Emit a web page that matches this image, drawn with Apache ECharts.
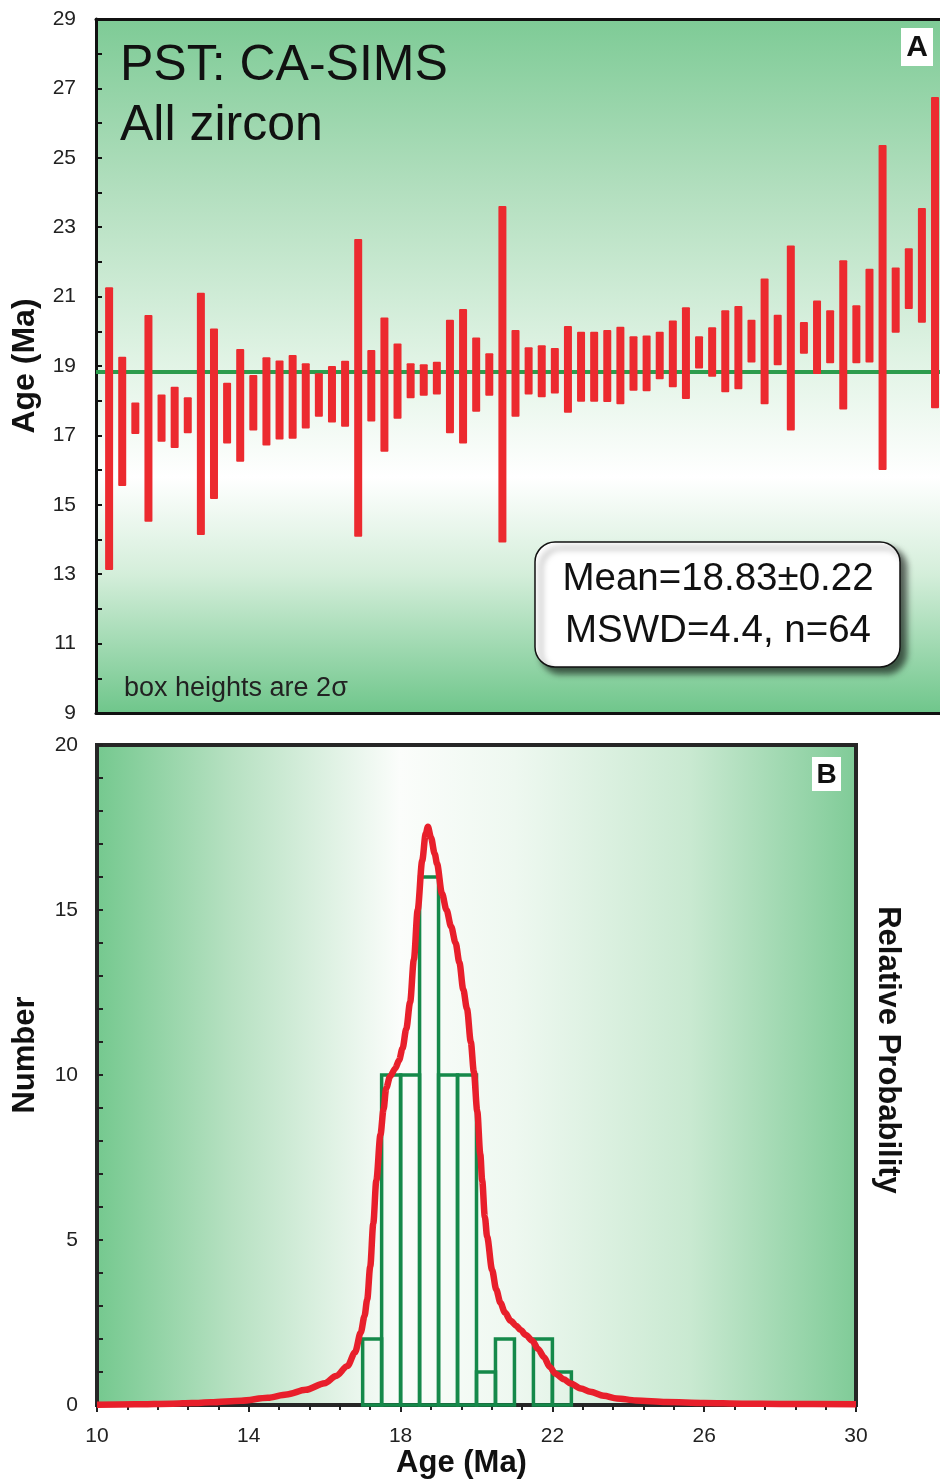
<!DOCTYPE html>
<html>
<head>
<meta charset="utf-8">
<script src="https://cdn.jsdelivr.net/npm/echarts@6/dist/echarts.min.js"></script>
<style>
  html, body { margin: 0; padding: 0; background: #ffffff; }
  #chart { width: 940px; height: 1481px; }
</style>
</head>
<body>
<div id="chart"></div>
<script>
// ---- Panel A: zircon spot ages, upper / lower end of each 2σ box (Ma), in plotted order
const boxTop = [21.27, 19.27, 17.95, 20.47, 18.18, 18.40, 18.10, 21.11, 20.08, 18.52,
                19.49, 18.74, 19.25, 19.16, 19.32, 19.08, 18.79, 19.00, 19.15, 22.66,
                19.46, 20.40, 19.65, 19.08, 19.05, 19.12, 20.33, 20.64, 19.82, 19.37,
                23.61, 20.04, 19.54, 19.60, 19.52, 20.15, 19.99, 19.99, 20.04, 20.13,
                19.86, 19.88, 19.99, 20.31, 20.69, 19.86, 20.12, 20.61, 20.73, 20.33,
                21.52, 20.48, 22.47, 20.27, 20.89, 20.61, 22.05, 20.75, 21.80, 25.37,
                21.84, 22.39, 23.55, 26.75];
const boxBottom = [13.12, 15.54, 17.04, 14.51, 16.82, 16.64, 17.06, 14.13, 15.17, 16.77,
                   16.24, 17.14, 16.71, 16.88, 16.90, 17.20, 17.54, 17.37, 17.25, 14.08,
                   17.40, 16.53, 17.48, 18.07, 18.14, 18.18, 17.06, 16.77, 17.68, 18.14,
                   13.91, 17.54, 18.18, 18.10, 18.21, 17.65, 17.97, 17.97, 17.96, 17.90,
                   18.29, 18.27, 18.62, 18.39, 18.05, 18.93, 18.69, 18.24, 18.33, 19.10,
                   17.90, 19.02, 17.14, 19.35, 18.77, 19.08, 17.75, 19.08, 19.10, 16.00,
                   19.96, 20.64, 20.25, 17.78];
const weightedMean = 18.83;
const statsLines = ['Mean=18.83\u00b10.22', 'MSWD=4.4, n=64'];
const ageTickLabelsA = [9, 11, 13, 15, 17, 19, 21, 23, 25, 27, 29];

// ---- Panel B: histogram of ages (0.5 Ma bins) and relative probability curve
const binStart = [17.0, 17.5, 18.0, 18.5, 19.0, 19.5, 20.0, 20.5, 21.0, 21.5, 22.0];
const binWidth = 0.5;
const binCount = [2, 10, 10, 16, 10, 10, 1, 2, 0, 2, 1];
const numberTickLabels = [0, 5, 10, 15, 20];
const ageTickLabelsB = [10, 14, 18, 22, 26, 30];

const curveAge = [10, 11, 12, 12.5, 13, 13.8, 14.5, 15, 15.5, 16,
                  16.3, 16.6, 16.8, 16.95, 17.05, 17.12, 17.2, 17.28, 17.36, 17.47,
                  17.55, 17.62, 17.72, 17.86, 17.96, 18.05, 18.15, 18.25, 18.35, 18.45,
                  18.57, 18.66, 18.72, 18.8, 18.9, 18.96, 19.09, 19.21, 19.33, 19.45,
                  19.55, 19.65, 19.75, 19.85, 19.93, 20.02, 20.1, 20.15, 20.22, 20.28,
                  20.41, 20.52, 20.63, 20.75, 20.9, 21.05, 21.16, 21.3, 21.47, 21.62,
                  21.78, 21.93, 22.08, 22.3, 22.48, 22.75, 23.0, 23.35, 23.7, 24.2,
                  25, 26, 27, 28, 30];
const curveValue = [0.01, 0.02, 0.04, 0.06, 0.08, 0.13, 0.22, 0.32, 0.46, 0.66,
                    0.88, 1.18, 1.6, 2.2, 2.7, 3.2, 4.2, 5.5, 6.8, 8.2,
                    8.95, 9.6, 9.95, 10.2, 10.45, 10.8, 11.4, 12.2, 13.5, 15.0,
                    16.5, 17.3, 17.52, 17.2, 16.7, 16.4, 15.5, 15.0, 14.5, 14.0,
                    13.4, 12.6, 12.0, 11.0, 10.1, 8.9, 7.6, 6.8, 5.7, 5.1,
                    4.1, 3.5, 3.1, 2.8, 2.55, 2.4, 2.27, 2.12, 1.95, 1.7,
                    1.45, 1.15, 0.95, 0.78, 0.65, 0.5, 0.4, 0.28, 0.2, 0.14,
                    0.09, 0.06, 0.04, 0.03, 0.02];

const FONT = '"Liberation Sans", Arial, Helvetica, sans-serif';
const SPOT_X_MAX = 64.38;   // spot index range across panel A (panel runs off the right edge)

const chart = echarts.init(document.getElementById('chart'), null, { renderer: 'canvas' });

const bgA = {
  type: 'linear', x: 0, y: 0, x2: 0, y2: 1,
  colorStops: [
    { offset: 0.00, color: '#7ecb96' },
    { offset: 0.25, color: '#b3dfbf' },
    { offset: 0.50, color: '#e2f4e6' },
    { offset: 0.66, color: '#ffffff' },
    { offset: 0.80, color: '#d4eeda' },
    { offset: 1.00, color: '#6fc68b' }
  ]
};
const bgB = {
  type: 'linear', x: 0, y: 0, x2: 1, y2: 0,
  colorStops: [
    { offset: 0.00, color: '#74c88e' },
    { offset: 0.18, color: '#b7e1c2' },
    { offset: 0.40, color: '#fbfdfb' },
    { offset: 0.55, color: '#eef8f0' },
    { offset: 0.78, color: '#c9e9d1' },
    { offset: 1.00, color: '#7fcb97' }
  ]
};

const tickLabelStyle = { fontFamily: FONT, fontSize: 21, color: '#222' };
const axisNameStyle = { fontFamily: FONT, fontSize: 31, fontWeight: 'bold', color: '#111' };
const frameA = { show: true, lineStyle: { color: '#111', width: 3 } };

const option = {
  animation: false,
  backgroundColor: '#ffffff',
  grid: [
    { left: 96, top: 19, right: 0, height: 694, show: true,
      backgroundColor: bgA, borderWidth: 0 },
    { left: 97, top: 745, width: 759, height: 660, show: true,
      backgroundColor: bgB, borderColor: '#262626', borderWidth: 4 }
  ],
  xAxis: [
    { gridIndex: 0, type: 'value', min: 0, max: SPOT_X_MAX, position: 'bottom',
      axisLine: frameA, axisTick: { show: false }, axisLabel: { show: false }, splitLine: { show: false } },
    { gridIndex: 1, type: 'value', min: 10, max: 30, interval: 4,
      axisLine: { show: false },
      axisTick: { show: true, inside: false, length: 7, lineStyle: { color: '#222', width: 2 } },
      axisLabel: Object.assign({ margin: 21,
        formatter: v => ageTickLabelsB.includes(v) ? String(v) : '' }, tickLabelStyle),
      splitLine: { show: false },
      name: 'Age (Ma)', nameLocation: 'middle', nameGap: 43,
      nameTextStyle: Object.assign({ padding: [0, 30, 0, 0] }, axisNameStyle) },
    { gridIndex: 1, type: 'value', min: 10, max: 30, interval: 0.8,
      axisLine: { show: false },
      axisTick: { show: true, inside: true, length: 5, lineStyle: { color: '#222', width: 2 } },
      axisLabel: { show: false }, splitLine: { show: false } },
    { gridIndex: 0, type: 'value', min: 0, max: SPOT_X_MAX, position: 'top',
      axisLine: frameA, axisTick: { show: false }, axisLabel: { show: false }, splitLine: { show: false } }
  ],
  yAxis: [
    { gridIndex: 0, type: 'value', min: 9, max: 29, interval: 1,
      axisLine: frameA,
      axisTick: { show: true, inside: true, length: 6, lineStyle: { color: '#111', width: 2 } },
      axisLabel: Object.assign({ margin: 20,
        formatter: v => ageTickLabelsA.includes(v) ? String(v) : '' }, tickLabelStyle),
      splitLine: { show: false },
      name: 'Age (Ma)', nameLocation: 'middle', nameGap: 55,
      nameTextStyle: Object.assign({}, axisNameStyle, { fontSize: 32 }) },
    { gridIndex: 1, type: 'value', min: 0, max: 20, interval: 1,
      axisLine: { show: false },
      axisTick: { show: true, inside: true, length: 6, lineStyle: { color: '#222', width: 2 } },
      axisLabel: Object.assign({ margin: 19,
        formatter: v => numberTickLabels.includes(v) ? String(v) : '' }, tickLabelStyle),
      splitLine: { show: false },
      name: 'Number', nameLocation: 'middle', nameGap: 56,
      nameTextStyle: Object.assign({ padding: [0, 0, 0, 40] }, axisNameStyle) },
    { gridIndex: 1, type: 'value', position: 'right', min: 0, max: 20,
      axisLine: { show: false }, axisTick: { show: false }, axisLabel: { show: false },
      splitLine: { show: false },
      name: 'Relative Probability', nameLocation: 'middle', nameRotate: -90, nameGap: 16,
      nameTextStyle: Object.assign({ padding: [0, 50, 0, 0] }, axisNameStyle) }
  ],
  series: [
    // weighted mean age
    { type: 'line', xAxisIndex: 0, yAxisIndex: 0, silent: true, symbol: 'none', z: 2,
      data: [[0, weightedMean], [SPOT_X_MAX, weightedMean]],
      lineStyle: { color: '#2c9c4c', width: 4 } },
    // 2σ boxes of individual spots
    { type: 'custom', xAxisIndex: 0, yAxisIndex: 0, z: 3,
      data: boxTop.map((t, i) => [i + 1, boxBottom[i], t]),
      encode: { x: 0, y: [1, 2] },
      renderItem: (params, api) => {
        const lo = api.coord([api.value(0), api.value(1)]);
        const hi = api.coord([api.value(0), api.value(2)]);
        const w = 8;
        return { type: 'rect',
          shape: { x: lo[0] - w / 2, y: hi[1], width: w, height: lo[1] - hi[1], r: 1 },
          style: { fill: '#ec2a2f' } };
      } },
    // histogram
    { type: 'custom', xAxisIndex: 1, yAxisIndex: 1, z: 3,
      data: binStart.map((s, i) => [s, s + binWidth, binCount[i]]),
      encode: { x: [0, 1], y: 2 },
      renderItem: (params, api) => {
        if (api.value(2) <= 0) return null;
        const tl = api.coord([api.value(0), api.value(2)]);
        const br = api.coord([api.value(1), 0]);
        return { type: 'rect',
          shape: { x: tl[0], y: tl[1], width: br[0] - tl[0], height: br[1] - tl[1] },
          style: { fill: 'none', stroke: '#15894a', lineWidth: 3.5 } };
      } },
    // relative probability curve
    { type: 'line', xAxisIndex: 1, yAxisIndex: 2, silent: true, symbol: 'none', z: 4,
      smooth: 0.3, smoothMonotone: 'x',
      data: curveAge.map((a, i) => [a, curveValue[i]]),
      lineStyle: { color: '#e81f2b', width: 6.5 } }
  ],
  graphic: [
    { type: 'text', x: 120, y: 66, z: 20,
      style: { text: 'PST: CA-SIMS', font: '50px ' + FONT, fill: '#111', verticalAlign: 'middle' } },
    { type: 'text', x: 120, y: 126, z: 20,
      style: { text: 'All zircon', font: '50px ' + FONT, fill: '#111', verticalAlign: 'middle' } },
    { type: 'rect', z: 20, shape: { x: 901, y: 28, width: 32, height: 38 }, style: { fill: '#ffffff' } },
    { type: 'text', x: 917, y: 48, z: 21,
      style: { text: 'A', font: 'bold 30px ' + FONT, fill: '#111', align: 'center', verticalAlign: 'middle' } },
    { type: 'text', x: 124, y: 689, z: 20,
      style: { text: 'box heights are 2\u03c3', font: '27px ' + FONT, fill: '#222', verticalAlign: 'middle' } },
    { type: 'rect', z: 20, shape: { x: 535, y: 542, width: 365, height: 125, r: 20 },
      style: { fill: '#ffffff', stroke: '#111', lineWidth: 1.5,
               shadowBlur: 6, shadowOffsetX: 6, shadowOffsetY: 6, shadowColor: 'rgba(0,0,0,0.6)' } },
    { type: 'text', x: 718, y: 579, z: 21,
      style: { text: statsLines[0], font: '38.5px ' + FONT, fill: '#111', align: 'center', verticalAlign: 'middle' } },
    { type: 'text', x: 718, y: 631, z: 21,
      style: { text: statsLines[1], font: '38.5px ' + FONT, fill: '#111', align: 'center', verticalAlign: 'middle' } },
    { type: 'rect', z: 20, shape: { x: 812, y: 757, width: 29, height: 34 }, style: { fill: '#ffffff' } },
    { type: 'text', x: 826.5, y: 775, z: 21,
      style: { text: 'B', font: 'bold 28px ' + FONT, fill: '#111', align: 'center', verticalAlign: 'middle' } }
  ]
};

chart.setOption(option);
</script>
</body>
</html>
